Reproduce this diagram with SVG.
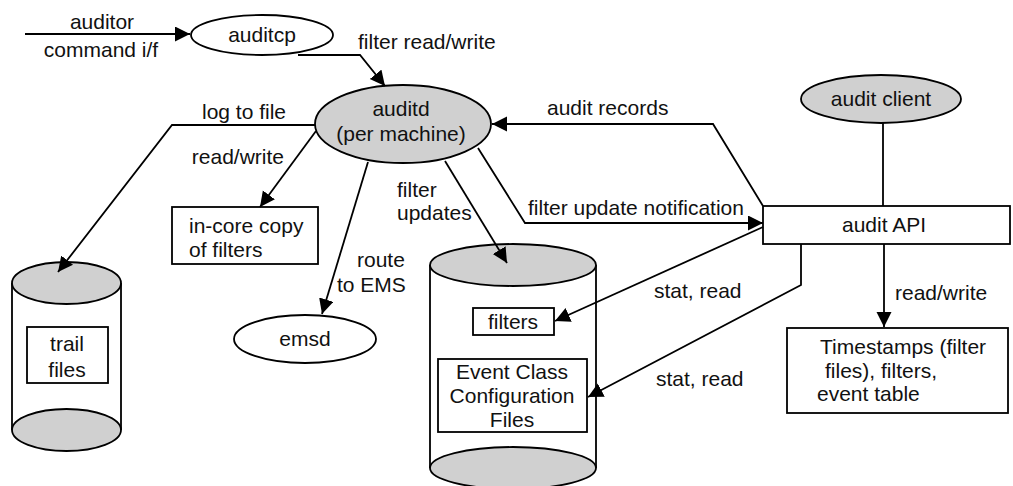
<svg xmlns="http://www.w3.org/2000/svg" width="1013" height="486" viewBox="0 0 1013 486">
<style>
text{font-family:"Liberation Sans",Arial,sans-serif;font-size:21px;fill:#111}
.c{text-anchor:middle}
.ln{fill:none;stroke:#000;stroke-width:1.8}
.arr{marker-end:url(#ah)}
.sh{stroke:#000;stroke-width:1.8}
.g{fill:#d0d0d0}
.w{fill:#fff}
</style>
<defs>
<marker id="ah" markerUnits="userSpaceOnUse" markerWidth="16" markerHeight="16" refX="15" refY="7.5" orient="auto">
<path d="M0,0 L15,7.5 L0,15 z" fill="#000"/>
</marker>
</defs>
<g id="auditcp">
<ellipse class="sh w" cx="262" cy="35" rx="71" ry="20"/>
<text x="262" y="42" class="c">auditcp</text>
</g>
<g id="auditd">
<ellipse class="sh g" cx="403" cy="124" rx="88" ry="39"/>
<text x="401" y="116" class="c">auditd</text>
<text x="401" y="141" class="c">(per machine)</text>
</g>
<g id="incore">
<rect class="sh w" x="172" y="207" width="146" height="57"/>
<text x="189" y="233">in-core copy</text>
<text x="189" y="257">of filters</text>
</g>
<g id="emsd">
<ellipse class="sh w" cx="305" cy="339" rx="71" ry="24"/>
<text x="305" y="346" class="c">emsd</text>
</g>
<g id="trail-cylinder">
<rect x="12" y="283" width="109" height="147" fill="#fff"/>
<path class="ln" d="M12,283 L12,430 M121,283 L121,430"/>
<ellipse class="sh g" cx="66.5" cy="430" rx="54.5" ry="21"/>
<ellipse class="sh g" cx="66.5" cy="283" rx="54.5" ry="21"/>
<rect class="sh w" x="27" y="327" width="81" height="56"/>
<text x="67" y="351" class="c">trail</text>
<text x="67" y="377" class="c">files</text>
</g>
<g id="filter-cylinder">
<path class="ln" d="M430,265 L430,468 M596,265 L596,468"/>
<ellipse class="sh g" cx="513" cy="468" rx="83" ry="21"/>
<ellipse class="sh g" cx="513" cy="265" rx="83" ry="21"/>
<rect class="sh w" x="473" y="308" width="81" height="27"/>
<text x="513" y="329" class="c">filters</text>
<rect class="sh w" x="438" y="359" width="149" height="73"/>
<text x="512" y="379" class="c">Event Class</text>
<text x="512" y="403" class="c">Configuration</text>
<text x="512" y="427" class="c">Files</text>
</g>
<g id="audit-client">
<ellipse class="sh g" cx="881" cy="99" rx="80" ry="24"/>
<text x="881" y="106" class="c">audit client</text>
</g>
<g id="audit-api">
<rect class="sh w" x="763" y="206" width="247" height="38"/>
<text x="884" y="232" class="c">audit API</text>
</g>
<g id="timestamps">
<rect class="sh w" x="787" y="328" width="221" height="85"/>
<text x="820" y="354">Timestamps (filter</text>
<text x="825" y="378">files), filters,</text>
<text x="817" y="401">event table</text>
</g>
<g id="connectors">
<path class="ln arr" d="M25,34 L190,34"/>
<path class="ln arr" d="M298,55 L360,55 L385,86"/>
<path class="ln arr" d="M315,125 L172,125 L58,272"/>
<path class="ln arr" d="M316,131 L260,207"/>
<path class="ln arr" d="M368,162 L322,314"/>
<path class="ln arr" d="M445,161 L507,263"/>
<path class="ln arr" d="M763,206 L713,124 L492,124"/>
<path class="ln arr" d="M478,148 L525,223 L763,223"/>
<path class="ln" d="M883,123 L883,206"/>
<path class="ln arr" d="M763,227 L555,321"/>
<path class="ln arr" d="M801,244 L801,285 L588,397"/>
<path class="ln arr" d="M884,244 L884,327"/>
<text x="102" y="29" class="c">auditor</text>
<text x="101" y="57" class="c">command i/f</text>
<text x="358" y="49">filter read/write</text>
<text x="202" y="119">log to file</text>
<text x="284" y="164" style="text-anchor:end">read/write</text>
<text x="357" y="267">route</text>
<text x="337" y="292">to EMS</text>
<text x="397" y="197">filter</text>
<text x="397" y="220">updates</text>
<text x="547" y="115">audit records</text>
<text x="528" y="215">filter update notification</text>
<text x="654" y="298">stat, read</text>
<text x="656" y="386">stat, read</text>
<text x="895" y="300">read/write</text>
</g>
</svg>
